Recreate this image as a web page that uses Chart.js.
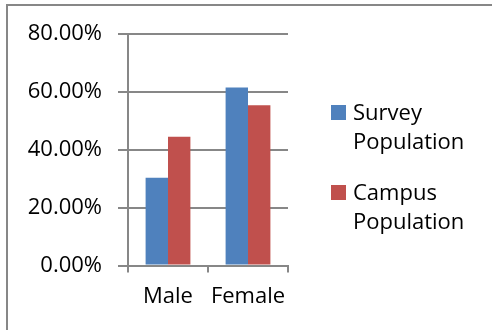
<!DOCTYPE html>
<html>
<head>
<meta charset="utf-8">
<script src="https://cdn.jsdelivr.net/npm/chart.js@4/dist/chart.umd.min.js"></script>
<style>
  html, body { margin: 0; padding: 0; background: #fff; }
  #wrap { position: relative; width: 492px; height: 330px; overflow: hidden; }
  #frame { position: absolute; left: 6px; top: 4px; width: 600px; height: 400px; border: 2px solid #878787; }
  #c { position: absolute; left: 0; top: 0; }
</style>
</head>
<body>
<div id="wrap">
  <div id="frame"></div>
  <canvas id="c" width="492" height="330"></canvas>
</div>
<script>
// Gender breakdown: survey respondents vs. overall campus population (percent)
const categories = ['Male', 'Female'];
const seriesNames = ['Survey Population', 'Campus Population'];
const surveyValues = [30.3, 61.5];
const campusValues = [44.5, 55.4];
const yTicks = [0, 20, 40, 60, 80];

const seriesColors = ['#4F81BD', '#C0504D'];
const axisGray = '#878787';
const FONT = "'Open Sans', 'Liberation Sans', sans-serif";

// Legend on the right, each series name wrapped onto one word per line
const sideLegend = {
  id: 'sideLegend',
  afterDraw(chart) {
    const ctx = chart.ctx;
    ctx.save();
    ctx.font = '22px ' + FONT;
    ctx.textBaseline = 'alphabetic';
    ctx.textAlign = 'left';
    const boxX = 331, textX = 353, box = 15;
    const firstBaseline = 120, itemGap = 80, lineGap = 29;
    chart.data.datasets.forEach((ds, i) => {
      const base = firstBaseline + i * itemGap;
      ctx.fillStyle = ds.backgroundColor;
      ctx.fillRect(boxX, base - box, box, box);
      ctx.fillStyle = '#000';
      ds.label.split(' ').forEach((word, j) => {
        ctx.fillText(word, textX, base + j * lineGap);
      });
    });
    ctx.restore();
  }
};

new Chart(document.getElementById('c'), {
  type: 'bar',
  data: {
    labels: categories,
    datasets: [
      { label: seriesNames[0], data: surveyValues, backgroundColor: seriesColors[0] },
      { label: seriesNames[1], data: campusValues, backgroundColor: seriesColors[1] }
    ]
  },
  options: {
    responsive: false,
    animation: false,
    devicePixelRatio: 1,
    layout: { padding: { top: 34, right: 204, bottom: 0, left: 0 } },
    datasets: { bar: { categoryPercentage: 0.56, barPercentage: 1.0, borderWidth: 0 } },
    plugins: { legend: { display: false }, tooltip: { enabled: false } },
    scales: {
      x: {
        offset: true,
        grid: {
          offset: true,
          drawOnChartArea: false,
          drawTicks: true,
          tickLength: 7,
          color: axisGray,
          lineWidth: 2
        },
        border: { display: true, color: axisGray, width: 2 },
        ticks: {
          color: '#000',
          padding: 11,
          autoSkip: false,
          maxRotation: 0,
          minRotation: 0,
          font: { family: FONT, size: 22 }
        },
        afterFit(scale) { scale.height = 64.5; }
      },
      y: {
        min: yTicks[0],
        max: yTicks[yTicks.length - 1],
        afterBuildTicks(scale) { scale.ticks = yTicks.map(v => ({ value: v })); },
        grid: { color: axisGray, lineWidth: 2, tickLength: 10, drawTicks: true },
        border: { display: true, color: axisGray, width: 2 },
        ticks: {
          color: '#000',
          padding: 16,
          font: { family: FONT, size: 22 },
          callback: v => v.toFixed(2) + '%'
        },
        afterFit(scale) { scale.width = 128; }
      }
    }
  },
  plugins: [sideLegend]
});
</script>
</body>
</html>
